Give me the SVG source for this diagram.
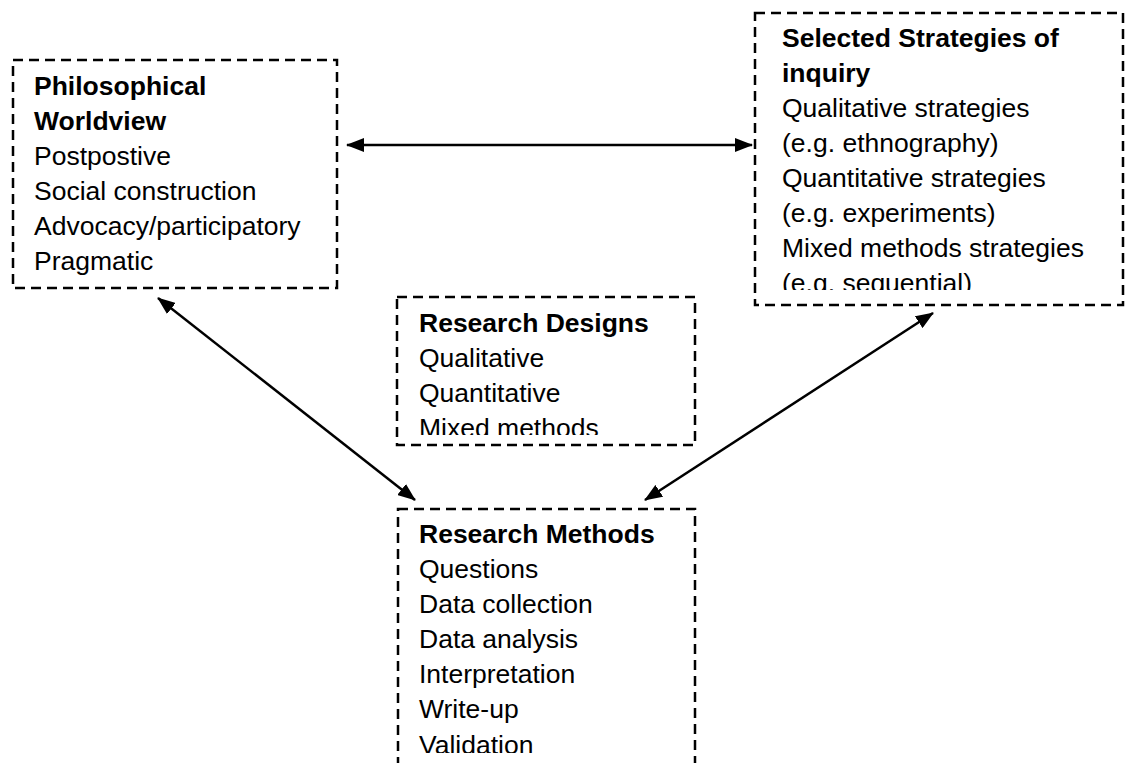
<svg xmlns="http://www.w3.org/2000/svg" width="1128" height="763" viewBox="0 0 1128 763">
<style>
.box{fill:none;stroke:#000;stroke-width:2.5;stroke-dasharray:10 6}
.t{font-family:"Liberation Sans",Arial,sans-serif;font-size:26.5px;fill:#000}
.b{font-weight:bold}
.c{fill:none;stroke:#000;stroke-width:2.5}
</style>
<defs>
<marker id="ah" markerUnits="userSpaceOnUse" viewBox="0 0 18 14" refX="17" refY="7" markerWidth="18" markerHeight="14" orient="auto-start-reverse">
<path d="M0,0 L18,7 L0,14 Z" fill="#000"/>
</marker>
<clipPath id="cp2"><rect x="755" y="13" width="368" height="277"/></clipPath>
<clipPath id="cp3"><rect x="397" y="297" width="298" height="138"/></clipPath>
<clipPath id="cp4"><rect x="398" y="509" width="297" height="244"/></clipPath>
</defs>
<g id="connectors">
<line class="c" x1="347" y1="145" x2="752" y2="145" marker-start="url(#ah)" marker-end="url(#ah)"/>
<line class="c" x1="158" y1="298" x2="415" y2="500" marker-start="url(#ah)" marker-end="url(#ah)"/>
<line class="c" x1="933" y1="313" x2="645" y2="500" marker-start="url(#ah)" marker-end="url(#ah)"/>
</g>
<g id="worldview">
<rect class="box" x="13" y="60" width="324" height="228"/>
<text class="t b" x="34" y="95">Philosophical</text>
<text class="t b" x="34" y="130">Worldview</text>
<text class="t" x="34" y="165">Postpostive</text>
<text class="t" x="34" y="200">Social construction</text>
<text class="t" x="34" y="235">Advocacy/participatory</text>
<text class="t" x="34" y="270">Pragmatic</text>
</g>
<g id="strategies">
<rect class="box" x="755" y="13" width="368" height="292"/>
<g clip-path="url(#cp2)">
<text class="t b" x="782" y="47">Selected Strategies of</text>
<text class="t b" x="782" y="82">inquiry</text>
<text class="t" x="782" y="117">Qualitative strategies</text>
<text class="t" x="782" y="152">(e.g. ethnography)</text>
<text class="t" x="782" y="187">Quantitative strategies</text>
<text class="t" x="782" y="222">(e.g. experiments)</text>
<text class="t" x="782" y="257">Mixed methods strategies</text>
<text class="t" x="782" y="292">(e.g. sequential)</text>
</g>
</g>
<g id="designs">
<rect class="box" x="397" y="297" width="298" height="148"/>
<g clip-path="url(#cp3)">
<text class="t b" x="419" y="332">Research Designs</text>
<text class="t" x="419" y="367">Qualitative</text>
<text class="t" x="419" y="402">Quantitative</text>
<text class="t" x="419" y="437">Mixed methods</text>
</g>
</g>
<g id="methods">
<rect class="box" x="398" y="509" width="297" height="280"/>
<g clip-path="url(#cp4)">
<text class="t b" x="419" y="543">Research Methods</text>
<text class="t" x="419" y="578">Questions</text>
<text class="t" x="419" y="613">Data collection</text>
<text class="t" x="419" y="648">Data analysis</text>
<text class="t" x="419" y="683">Interpretation</text>
<text class="t" x="419" y="718">Write-up</text>
<text class="t" x="419" y="754">Validation</text>
</g>
</g>
</svg>
